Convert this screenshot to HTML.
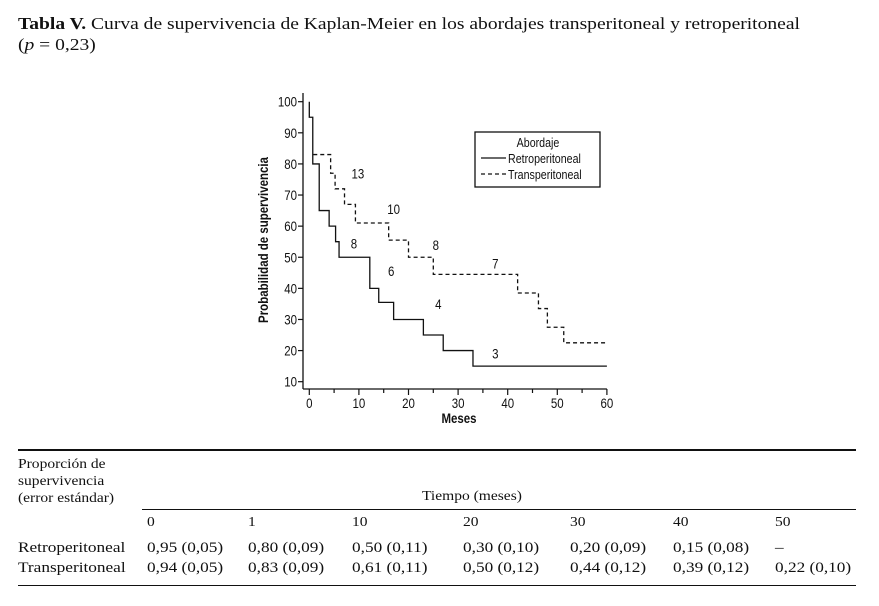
<!DOCTYPE html>
<html><head><meta charset="utf-8"><style>
body{margin:0;width:879px;height:606px;background:#fff;overflow:hidden;position:relative;font-family:"Liberation Serif",serif;color:#111}
.t{position:absolute;white-space:nowrap;transform:scaleX(1.15);transform-origin:0 0}
.ser{font-size:15px}
.sm{font-size:13.5px}
svg text{font-family:"Liberation Sans Narrow","Liberation Sans",sans-serif;fill:#111}
</style></head><body>
<div class="t" style="left:18px;top:14px;font-size:17px"><b>Tabla V.</b> Curva de supervivencia de Kaplan-Meier en los abordajes transperitoneal y retroperitoneal</div>
<div class="t" style="left:18px;top:35px;font-size:17px">(<i>p</i> = 0,23)</div>

<svg id="chart" width="879" height="440" style="position:absolute;left:0;top:0">
<g id="axes"></g><g id="series"></g>
<g>
<rect x="475" y="132" width="125" height="55" fill="#fff" stroke="#111" stroke-width="1.3"/>
<text x="538" y="147" font-size="13" text-anchor="middle">Abordaje</text>
<line x1="481" y1="158" x2="506" y2="158" stroke="#111" stroke-width="1.3"/>
<text x="508" y="163" font-size="13">Retroperitoneal</text>
<line x1="481" y1="174" x2="506" y2="174" stroke="#111" stroke-width="1.3" stroke-dasharray="4,3"/>
<text x="508" y="179" font-size="13">Transperitoneal</text>
</g>
<text transform="translate(268,240) rotate(-90)" font-size="14" font-weight="bold" text-anchor="middle">Probabilidad de supervivencia</text>
<text x="459" y="423" font-size="14" font-weight="bold" text-anchor="middle">Meses</text>
</svg>

<div style="position:absolute;left:18px;top:449px;width:838px;height:2px;background:#111"></div>
<div style="position:absolute;left:142px;top:509px;width:714px;height:1px;background:#111"></div>
<div style="position:absolute;left:18px;top:585px;width:838px;height:1px;background:#111"></div>
<div class="t sm" style="left:18px;top:455px;line-height:17px">Proporción de<br>supervivencia<br>(error estándar)</div>
<div class="t sm" style="left:422px;top:488px">Tiempo (meses)</div>
<div id="tbl"></div>

<script>
const xTicks=[0,10,20,30,40,50,60];
const yTicks=[10,20,30,40,50,60,70,80,90,100];
const retroT=[0,0,0.7,2,4,5.3,6,12.2,14,17,23,27,33,60];
const retroS=[100,95,80,65,60,55,50,40,35.5,30,25,20,15,15];
const transT=[0.8,4.3,5.2,7.1,9.3,16,20,25,42,46.2,48,51.3,60];
const transS=[83,77,72,67,61,55.5,50,44.5,38.5,33.5,27.5,22.5,22.5];
const atRiskLabels=["13","10","8","7","8","6","4","3"];
const atRiskT=[9.8,17,25.5,37.5,9,16.5,26,37.5];
const atRiskS=[77,65.5,54,48,54.5,45.5,35,19];
const tCols=["0","1","10","20","30","40","50"];
const retroRow=["0,95 (0,05)","0,80 (0,09)","0,50 (0,11)","0,30 (0,10)","0,20 (0,09)","0,15 (0,08)","–"];
const transRow=["0,94 (0,05)","0,83 (0,09)","0,61 (0,11)","0,50 (0,12)","0,44 (0,12)","0,39 (0,12)","0,22 (0,10)"];

const NS="http://www.w3.org/2000/svg";
const X=t=>309.3+t*4.96, Y=v=>101.7+(100-v)*3.111;
function mk(tag,at,parent){const e=document.createElementNS(NS,tag);for(const k in at)e.setAttribute(k,at[k]);parent.appendChild(e);return e;}
const ax=document.getElementById('axes'), se=document.getElementById('series');
let l=mk('line',{x1:303,y1:93,x2:303,y2:389,stroke:'#111','stroke-width':1.3},ax);


l=mk('line',{x1:303,y1:389,x2:X(60),y2:389,stroke:'#111','stroke-width':1.3},ax);


yTicks.forEach(v=>{mk('line',{x1:298,y1:Y(v),x2:303,y2:Y(v),stroke:'#111','stroke-width':1.2},ax);
 const t=mk('text',{x:297,y:Y(v)+5,'font-size':14,'text-anchor':'end'},ax);t.textContent=v;
 
 });
for(let m=0;m<=60;m+=5){mk('line',{x1:X(m),y1:389,x2:X(m),y2:xTicks.includes(m)?395:393,stroke:'#111','stroke-width':1.2},ax);}
xTicks.forEach(m=>{const t=mk('text',{x:X(m),y:408,'font-size':14,'text-anchor':'middle'},ax);t.textContent=m;
 
 });
function stepPath(T,S){let d='M'+X(T[0])+' '+Y(S[0]);for(let i=1;i<T.length;i++){d+=' H'+X(T[i])+' V'+Y(S[i]);}return d;}
let p=mk('path',{d:stepPath(retroT,retroS),fill:'none',stroke:'#111','stroke-width':1.3},se);


p=mk('path',{d:stepPath(transT,transS),fill:'none',stroke:'#111','stroke-width':1.3,'stroke-dasharray':'4,3'},se);


atRiskLabels.forEach((s,i)=>{const t=mk('text',{x:X(atRiskT[i]),y:Y(atRiskS[i])+5,'font-size':14,'text-anchor':'middle'},se);t.textContent=s;
 
 });
document.querySelectorAll('svg text').forEach(t=>{const w=t.getComputedTextLength();if(w>0){t.setAttribute('textLength',w*0.82);t.setAttribute('lengthAdjust','spacingAndGlyphs');}});

const colX=[147,248,352,463,570,673,775];
const tbl=document.getElementById('tbl');
function cell(txt,x,y,cls,name){const d=document.createElement('div');d.className='t '+cls;d.style.left=x+'px';d.style.top=y+'px';d.textContent=txt;
 
 
 tbl.appendChild(d);}
tCols.forEach((c,i)=>cell(c,colX[i],514,'sm','time-column-header'));
cell('Retroperitoneal',18,540,'ser','row-label-retro');
cell('Transperitoneal',18,560,'ser','row-label-trans');
retroRow.forEach((c,i)=>cell(c,colX[i],540,'ser','retro-value'));
transRow.forEach((c,i)=>cell(c,colX[i],560,'ser','trans-value'));
</script>
</body></html>
